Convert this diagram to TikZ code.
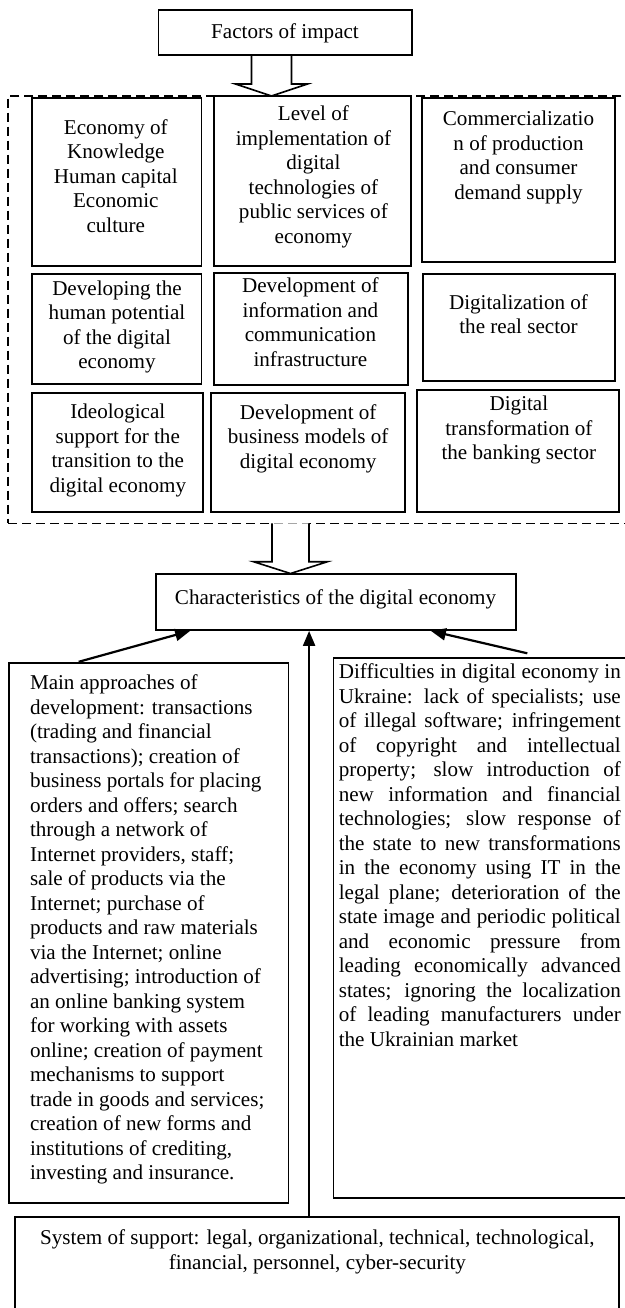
\documentclass[tikz,border=0pt]{standalone}
\usepackage{fontspec}
\setmainfont{Liberation Serif}
\usetikzlibrary{arrows.meta,calc}
% one fully justified line of the given width
\newcommand\jline[1]{\makebox[282pt][s]{\spaceskip=0pt\xspaceskip=0pt #1}}
\begin{document}
\begin{tikzpicture}[x=1pt,y=-1pt,
  box/.style={draw,line width=1.8pt,inner sep=0pt},
  txt/.style={inner sep=0pt,align=center,font=\fontsize{21.1pt}{24.5pt}\selectfont,
    execute at begin node={\spaceskip=0pt\xspaceskip=0pt\strut},execute at end node=\strut},
  frame/.style={draw,line width=1.5pt,dash pattern=on 9pt off 5pt,inner sep=0pt},
  hollow/.style={draw,fill=white,line width=1.6pt,line join=miter},
  arr/.style={line width=2.2pt,-{Triangle[length=15pt,width=12pt]}}
]
\useasboundingbox (0,0) rectangle (624,1308);

% dashed group of factors
\node[frame,minimum width=632pt,minimum height=427.3pt] (grp) at (324,309.65) {};

% wide hollow arrows
\draw[hollow] (251.5,55) -- (251.5,84) -- (235.5,84) -- (271.5,96) -- (307.5,84) -- (291.5,84) -- (291.5,55);
\draw[hollow] (272,523.3) -- (272,561.7) -- (253.5,561.7) -- (290.5,573.5) -- (327.5,561.7) -- (309,561.7) -- (309,523.3);

% boxes
\node[box,minimum width=253.5pt,minimum height=45pt] (fac) at (285.15,32.5) {};
\node[box,minimum width=169.6pt,minimum height=167.4pt] (r1b1) at (116.6,182) {};
\node[box,minimum width=197.3pt,minimum height=170pt] (r1b2) at (312.35,180.7) {};
\node[box,minimum width=193pt,minimum height=164pt] (r1b3) at (518.3,180.3) {};
\node[box,minimum width=169.6pt,minimum height=110pt] (r2b1) at (116.6,329) {};
\node[box,minimum width=194.2pt,minimum height=112pt] (r2b2) at (310.8,328.7) {};
\node[box,minimum width=192.2pt,minimum height=107pt] (r2b3) at (518.7,327.5) {};
\node[box,minimum width=171.2pt,minimum height=118.4pt] (r3b1) at (117.4,452.5) {};
\node[box,minimum width=194pt,minimum height=118.4pt] (r3b2) at (308,452.5) {};
\node[box,minimum width=201.8pt,minimum height=121.7pt] (r3b3) at (517.9,450.85) {};
\node[box,minimum width=360.1pt,minimum height=56pt] (chr) at (336.05,602) {};
\node[box,minimum width=279.7pt,minimum height=540.6pt] (lbox) at (148.65,933) {};
\node[box,minimum width=316.5pt,minimum height=540pt] (rbox) at (491.75,928.3) {};
\node[box,minimum width=604.1pt,minimum height=112.7pt] (sbox) at (316.75,1273.65) {};

% texts
\node[txt] (tfac) at (285,33.3) {Factors of impact};
\node[txt] (t11) at (115.8,179.3) {Economy of\\Knowledge\\Human capital\\Economic\\culture};
\node[txt] (t12) at (313.4,178.3) {Level of\\implementation of\\digital\\technologies of\\public services of\\economy};
\node[txt] (t13) at (518.5,158.8) {Commercializatio\\n of production\\and consumer\\demand supply};
\node[txt] (t21) at (117,328.3) {Developing the\\human potential\\of the digital\\economy};
\node[txt] (t22) at (310.4,325.8) {Development of\\information and\\communication\\infrastructure};
\node[txt] (t23) at (518.5,317.8) {Digitalization of\\the real sector};
\node[txt] (t31) at (117.8,452) {Ideological\\support for the\\transition to the\\digital economy};
\node[txt] (t32) at (308.2,440) {Development of\\business models of\\digital economy};
\node[txt] (t33) at (518.9,431.7) {Digital\\transformation of\\the banking sector};
\node[txt] (tchr) at (335.5,599.3) {Characteristics of the digital economy};
\node[txt,align=left,anchor=west] (tl) at (29.8,931) {Main approaches of\\development: transactions\\(trading and financial\\transactions); creation of\\business portals for placing\\orders and offers; search\\through a network of\\Internet providers, staff;\\sale of products via the\\Internet; purchase of\\products and raw materials\\via the Internet; online\\advertising; introduction of\\an online banking system\\for working with assets\\online; creation of payment\\mechanisms to support\\trade in goods and services;\\creation of new forms and\\institutions of crediting,\\investing and insurance.};
\node[txt,align=left,anchor=west,text width=282pt] (tr) at (338.6,857.5) {%
\jline{Difficulties in digital economy in}\\
\jline{Ukraine: lack of specialists; use}\\
\jline{of illegal software; infringement}\\
\jline{of copyright and intellectual}\\
\jline{property; slow introduction of}\\
\jline{new information and financial}\\
\jline{technologies; slow response of}\\
\jline{the state to new transformations}\\
\jline{in the economy using IT in the}\\
\jline{legal plane; deterioration of the}\\
\jline{state image and periodic political}\\
\jline{and economic pressure from}\\
\jline{leading economically advanced}\\
\jline{states; ignoring the localization}\\
\jline{of leading manufacturers under}\\
the Ukrainian market};
\node[txt] (ts) at (317.4,1253.4) {System of support: legal, organizational, technical, technological,\\financial, personnel, cyber-security};

% connectors into the characteristics box
\coordinate (ls) at ($(lbox.north west)+(70.8,0)$);
\coordinate (le) at ($(chr.south west)+(35,0)$);
\coordinate (cs) at ($(sbox.north west)+(295.3,0)$);
\coordinate (ce) at ($(chr.south west)+(154,0)$);
\coordinate (rs) at (527.3,653.3);
\coordinate (re) at ($(chr.south west)+(275.8,0)$);
\draw[arr] (ls) -- (le);
\draw[arr] (cs) -- (ce);
\draw[arr] (rs) -- (re);
\end{tikzpicture}
\end{document}
